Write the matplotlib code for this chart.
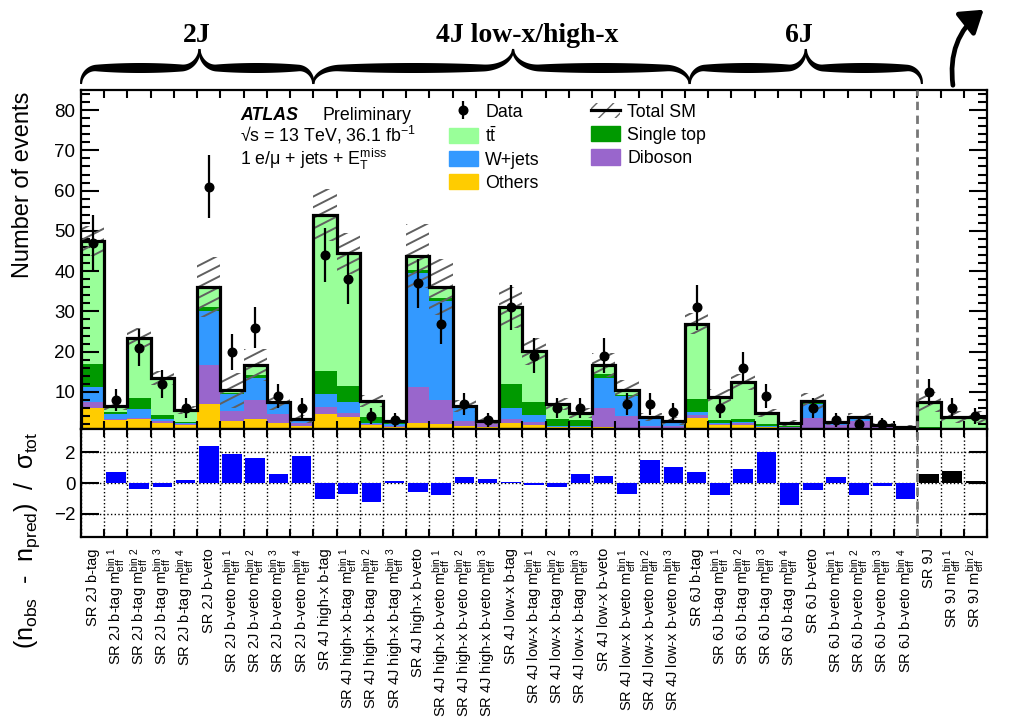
import numpy as np
import matplotlib
matplotlib.use("Agg")
import matplotlib.pyplot as plt
from matplotlib.path import Path
from matplotlib.patches import PathPatch, Patch, FancyArrowPatch, Polygon
from matplotlib.collections import LineCollection
from matplotlib.lines import Line2D
import matplotlib.transforms as mtrans

plt.rcParams['font.family'] = ['Liberation Sans', 'DejaVu Sans']
plt.rcParams['mathtext.fontset'] = 'custom'
plt.rcParams['mathtext.rm'] = 'Liberation Sans'
plt.rcParams['mathtext.it'] = 'Liberation Sans:italic'
plt.rcParams['mathtext.bf'] = 'Liberation Sans:bold'

# ---------------- data ----------------
region_labels = [
    "SR 2J b-tag",
    r"SR 2J b-tag m$_{\mathrm{eff}}^{\mathrm{bin\ 1}}$",
    r"SR 2J b-tag m$_{\mathrm{eff}}^{\mathrm{bin\ 2}}$",
    r"SR 2J b-tag m$_{\mathrm{eff}}^{\mathrm{bin\ 3}}$",
    r"SR 2J b-tag m$_{\mathrm{eff}}^{\mathrm{bin\ 4}}$",
    "SR 2J b-veto",
    r"SR 2J b-veto m$_{\mathrm{eff}}^{\mathrm{bin\ 1}}$",
    r"SR 2J b-veto m$_{\mathrm{eff}}^{\mathrm{bin\ 2}}$",
    r"SR 2J b-veto m$_{\mathrm{eff}}^{\mathrm{bin\ 3}}$",
    r"SR 2J b-veto m$_{\mathrm{eff}}^{\mathrm{bin\ 4}}$",
    "SR 4J high-x b-tag",
    r"SR 4J high-x b-tag m$_{\mathrm{eff}}^{\mathrm{bin\ 1}}$",
    r"SR 4J high-x b-tag m$_{\mathrm{eff}}^{\mathrm{bin\ 2}}$",
    r"SR 4J high-x b-tag m$_{\mathrm{eff}}^{\mathrm{bin\ 3}}$",
    "SR 4J high-x b-veto",
    r"SR 4J high-x b-veto m$_{\mathrm{eff}}^{\mathrm{bin\ 1}}$",
    r"SR 4J high-x b-veto m$_{\mathrm{eff}}^{\mathrm{bin\ 2}}$",
    r"SR 4J high-x b-veto m$_{\mathrm{eff}}^{\mathrm{bin\ 3}}$",
    "SR 4J low-x b-tag",
    r"SR 4J low-x b-tag m$_{\mathrm{eff}}^{\mathrm{bin\ 1}}$",
    r"SR 4J low-x b-tag m$_{\mathrm{eff}}^{\mathrm{bin\ 2}}$",
    r"SR 4J low-x b-tag m$_{\mathrm{eff}}^{\mathrm{bin\ 3}}$",
    "SR 4J low-x b-veto",
    r"SR 4J low-x b-veto m$_{\mathrm{eff}}^{\mathrm{bin\ 1}}$",
    r"SR 4J low-x b-veto m$_{\mathrm{eff}}^{\mathrm{bin\ 2}}$",
    r"SR 4J low-x b-veto m$_{\mathrm{eff}}^{\mathrm{bin\ 3}}$",
    "SR 6J b-tag",
    r"SR 6J b-tag m$_{\mathrm{eff}}^{\mathrm{bin\ 1}}$",
    r"SR 6J b-tag m$_{\mathrm{eff}}^{\mathrm{bin\ 2}}$",
    r"SR 6J b-tag m$_{\mathrm{eff}}^{\mathrm{bin\ 3}}$",
    r"SR 6J b-tag m$_{\mathrm{eff}}^{\mathrm{bin\ 4}}$",
    "SR 6J b-veto",
    r"SR 6J b-veto m$_{\mathrm{eff}}^{\mathrm{bin\ 1}}$",
    r"SR 6J b-veto m$_{\mathrm{eff}}^{\mathrm{bin\ 2}}$",
    r"SR 6J b-veto m$_{\mathrm{eff}}^{\mathrm{bin\ 3}}$",
    r"SR 6J b-veto m$_{\mathrm{eff}}^{\mathrm{bin\ 4}}$",
    "SR 9J",
    r"SR 9J m$_{\mathrm{eff}}^{\mathrm{bin\ 1}}$",
    r"SR 9J m$_{\mathrm{eff}}^{\mathrm{bin\ 2}}$",
]

others = [5.9, 3.0, 3.2, 2.2, 1.8, 7.1, 2.7, 3.4, 2.2, 1.6,
          4.6, 3.8, 1.8, 1.3, 2.4, 2.1, 1.5, 1.3,
          2.2, 1.7, 1.2, 1.2, 1.2, 1.0, 1.0, 1.0,
          3.6, 1.8, 1.8, 1.2, 1.1, 1.0, 0.8, 0.8, 0.5, 0.3,
          0.3, 0.3, 0.3]
diboson = [1.6, 0.4, 0.4, 0.7, 0.2, 9.7, 2.6, 4.5, 2.4, 0.6,
           1.7, 1.0, 0.2, 0.3, 8.8, 6.0, 1.3, 1.2,
           1.1, 0.8, 0.2, 0.2, 4.7, 3.0, 0.6, 0.5,
           0.7, 0.3, 0.4, 0.2, 0.1, 2.6, 1.0, 2.0, 0.8, 0.4,
           0.2, 0.2, 0.2]
wjets = [3.7, 1.2, 2.1, 0.4, 0.2, 13.4, 4.2, 5.6, 2.5, 0.5,
         3.3, 2.7, 0.3, 0.4, 28.3, 24.6, 3.1, 0.2,
         2.6, 1.8, 0.2, 0.2, 7.5, 5.0, 1.8, 0.9,
         0.8, 0.3, 0.4, 0.2, 0.1, 3.3, 0.5, 0.6, 0.3, 0.2,
         0.3, 0.2, 0.2]
singletop = [5.8, 0.4, 2.7, 0.9, 0.3, 0.8, 0.2, 0.6, 0.1, 0.1,
             5.7, 4.1, 1.5, 0.3, 0.8, 0.6, 0.1, 0.0,
             6.2, 3.3, 1.6, 1.4, 1.0, 0.3, 0.1, 0.1,
             3.1, 0.6, 0.8, 0.4, 0.2, 0.3, 0.1, 0.1, 0.1, 0.1,
             0.4, 0.3, 0.3]
ttbar = [30.5, 1.4, 15.1, 9.2, 3.1, 5.0, 0.7, 2.5, 0.2, 0.4,
         38.6, 32.8, 4.0, 0.4, 3.5, 2.7, 0.6, 0.2,
         18.9, 12.5, 3.7, 1.7, 2.2, 1.2, 0.3, 0.2,
         18.8, 5.8, 9.0, 2.7, 0.8, 0.6, 0.1, 0.3, 0.2, 0.2,
         6.4, 2.7, 2.7]
sm_unc = [3.8, 1.0, 2.5, 1.7, 1.0, 7.5, 4.3, 4.0, 2.0, 1.0,
          6.5, 5.0, 1.5, 0.7, 8.0, 7.0, 1.5, 0.8,
          5.0, 3.3, 1.5, 1.2, 3.0, 2.5, 1.0, 1.0,
          2.5, 2.0, 2.0, 1.0, 0.7, 2.0, 0.7, 1.0, 0.5, 0.5,
          2.5, 1.5, 1.5]
data_obs = [47, 8, 21, 12, 6, 61, 20, 26, 9, 6,
            44, 38, 4, 3, 37, 27, 7, 3,
            31, 19, 6, 6, 19, 7, 7, 5,
            31, 6, 16, 9, 0, 6, 3, 2, 2, 0,
            10, 6, 4]
significance = [-0.02, 0.69, -0.39, -0.26, 0.22, 2.37, 1.85, 1.59, 0.56, 1.78,
                -1.03, -0.71, -1.25, 0.10, -0.58, -0.80, 0.37, 0.28,
                0.04, -0.13, -0.28, 0.58, 0.43, -0.71, 1.46, 1.05,
                0.69, -0.80, 0.88, 2.04, -1.42, -0.45, 0.41, -0.77, -0.20, -1.03,
                0.60, 0.80, 0.15]

group_names = ["2J", "4J low-x/high-x", "6J"]
group_ranges = [(0, 10), (10, 26.2), (26.2, 36.2)]
group_tips = [5.1, 18.6, 31.2]
group_text_x = [5.0, 19.2, 30.9]
sep_9j = 36

c_tt = '#99ff99'
c_st = '#009900'
c_w = '#3399ff'
c_dib = '#9966cc'
c_oth = '#ffcc00'

# ---------------- figure ----------------
W, H = 1017, 718
fig = plt.figure(figsize=(W / 100, H / 100), dpi=100)
ax = fig.add_axes([81 / W, 1 - 429 / H, 906 / W, (429 - 90) / H])
ax2 = fig.add_axes([81 / W, 1 - 537 / H, 906 / W, (537 - 429) / H])

n = len(region_labels)
edges = np.arange(n + 1)
centers = edges[:-1] + 0.5

bottom = np.zeros(n)
for vals, col in [(others, c_oth), (diboson, c_dib), (wjets, c_w),
                  (singletop, c_st), (ttbar, c_tt)]:
    top = bottom + np.asarray(vals)
    ax.stairs(top, edges, baseline=bottom, fill=True, color=col, lw=0, zorder=1)
    bottom = top
total = bottom
unc = np.asarray(sm_unc)

ax.set_xlim(0, n)
ax.set_ylim(0.8, 85)
ax2.set_xlim(0, n)
ax2.set_ylim(-3.5, 3.5)

# hatched uncertainty band (slanted lines clipped to the band)
verts, codes = [], []
for i in range(n):
    lo, hi = total[i] - unc[i], total[i] + unc[i]
    verts += [(edges[i], lo), (edges[i + 1], lo), (edges[i + 1], hi), (edges[i], hi), (edges[i], lo)]
    codes += [Path.MOVETO, Path.LINETO, Path.LINETO, Path.LINETO, Path.CLOSEPOLY]
band = PathPatch(Path(verts, codes), transform=ax.transData, fc='none', ec='none')
ax.add_patch(band)
axW, axH = 906.0, 339.0
ang = np.deg2rad(27)
slope = np.tan(ang)
spacing = 9.5 / np.cos(ang)
cs = np.arange(-axW * slope, axH, spacing)
segs = [[(0, c / axH), (1, (c + slope * axW) / axH)] for c in cs]
lc = LineCollection(segs, colors='#606060', linewidths=1.4, transform=ax.transAxes, zorder=2)
ax.add_collection(lc, autolim=False)
lc.set_clip_path(band)

ax.stairs(total, edges, color='k', lw=2.3, zorder=3)

dobs = np.asarray(data_obs, dtype=float)
m = dobs > 0
eb = ax.errorbar(centers[m], dobs[m], yerr=np.sqrt(dobs[m]), fmt='o', color='k',
                 ms=6.2, elinewidth=1.6, capsize=0, zorder=4)

ax.axvline(sep_9j, color='#777777', ls=(0, (3, 2)), lw=2, zorder=5)
ax2.axvline(sep_9j, color='#777777', ls=(0, (3, 2)), lw=2, zorder=5)

# ticks upper
ax.set_yticks(np.arange(10, 81, 10))
ax.set_yticks(np.arange(2, 85, 2), minor=True)
ax.set_xticks(edges)
ax.tick_params(axis='y', which='major', direction='in', length=13, width=1.5,
               left=True, right=True, labelsize=13.5, pad=4)
ax.tick_params(axis='y', which='minor', direction='in', length=6.5, width=1.5,
               left=True, right=True)
ax.tick_params(axis='x', which='major', direction='in', length=5.5, width=1.5,
               top=True, bottom=True, labelbottom=False)
ax.tick_params(axis='x', which='minor', bottom=False, top=False)
for s in ax.spines.values():
    s.set_linewidth(1.6)

# legend
h_tot = (Patch(facecolor='none', edgecolor='#666666', hatch='//', lw=0),
         Line2D([], [], color='k', lw=2.3))
handles = [eb, Patch(color=c_tt), Patch(color=c_w), Patch(color=c_oth),
           h_tot, Patch(color=c_st), Patch(color=c_dib)]
leg_labels = ['Data', r't$\bar{\mathrm{t}}$', 'W+jets', 'Others',
              'Total SM', 'Single top', 'Diboson']
ax.legend(handles, leg_labels, ncol=2, loc='upper left',
          bbox_to_anchor=((449 - 81) / 906, (429 - 103) / 339),
          frameon=False, fontsize=12.8, handlelength=1.63, handleheight=0.95,
          handletextpad=0.4, labelspacing=0.3, columnspacing=2.9,
          borderpad=0, borderaxespad=0)

# ATLAS labels
ax.text((240 - 81) / 906, (429 - 120) / 339, 'ATLAS', transform=ax.transAxes,
        fontsize=12.8, fontweight='bold', fontstyle='italic', va='baseline')
ax.text((323 - 81) / 906, (429 - 120) / 339, 'Preliminary', transform=ax.transAxes,
        fontsize=12.8, va='baseline')
ax.text((240 - 81) / 906, (429 - 142) / 339, r'√s = 13 TeV, 36.1 fb$^{\mathrm{-1}}$',
        transform=ax.transAxes, fontsize=12.8, va='baseline')
ax.text((240 - 81) / 906, (429 - 165) / 339,
        r'1 e/μ + jets + E$_{\mathrm{T}}^{\mathrm{miss}}$',
        transform=ax.transAxes, fontsize=12.8, va='baseline')

# lower panel
bar_colors = ['#0000ff'] * sep_9j + ['black'] * (n - sep_9j)
ax2.bar(centers, significance, width=0.84, color=bar_colors, zorder=3)
ax2.set_yticks([-2, 0, 2])
ax2.set_xticks(edges)
ax2.set_xticks(centers, minor=True)
ax2.set_xticklabels(region_labels, minor=True, rotation=90, fontsize=10.5)
ax2.tick_params(axis='x', which='major', direction='in', length=5.5, width=1.5,
                top=True, bottom=True, labelbottom=False)
ax2.tick_params(axis='x', which='minor', length=0, pad=8)
ax2.tick_params(axis='y', which='major', direction='in', length=13, width=1.5,
                left=True, right=True, labelsize=13.5, pad=4)
ax2.grid(True, axis='x', which='major', ls=':', color='k', lw=1)
for yv in [-2, 0, 2]:
    ax2.axhline(yv, ls=':', color='k', lw=1, zorder=1)
for s in ax2.spines.values():
    s.set_linewidth(1.6)

fig.text(23 / W, 1 - 92 / H, 'Number of events', rotation=90, ha='center', va='top',
         fontsize=17)
fig.text(27 / W, 1 - 432 / H,
         r'(n$_{\mathrm{obs}}$  -  n$_{\mathrm{pred}}$)  /  σ$_{\mathrm{tot}}$',
         rotation=90, ha='center', va='top', fontsize=18)

# braces
def brace(x_end, x_tip, y_end, y_mid, y_tip, tmax):
    u = np.linspace(0, 1, 300)
    a, b = 0.13, 0.15
    xe = ax.transData.transform((x_end, 0))[0]
    xt = ax.transData.transform((x_tip, 0))[0]
    xp = xe + u * (xt - xe)
    r1 = (y_end - y_mid) * np.sqrt(1 - (1 - np.clip(u / a, 0, 1)) ** 2)
    r2 = (y_mid - y_tip) * (1 - np.sqrt(1 - np.clip((u - (1 - b)) / b, 0, 1) ** 2))
    yp = y_end - r1 - r2
    t = 2.0 + (tmax - 2.0) * np.sin(np.pi * u) ** 0.6
    dx = np.gradient(xp)
    dy = np.gradient(yp)
    nrm = np.hypot(dx, dy)
    nx, ny = -dy / nrm, dx / nrm
    up = np.column_stack([xp + nx * t / 2, yp + ny * t / 2])
    lo = np.column_stack([xp - nx * t / 2, yp - ny * t / 2])
    pts = np.vstack([up, lo[::-1]])
    pts_fig = np.column_stack([pts[:, 0] / W, 1 - pts[:, 1] / H])
    fig.add_artist(Polygon(pts_fig, closed=True, transform=fig.transFigure,
                           color='k', lw=0))

for (x0, x1), xt in zip(group_ranges, group_tips):
    brace(x0, xt, 84, 68, 49, 10)
    brace(x1, xt, 84, 68, 49, 10)

blend = mtrans.blended_transform_factory(ax.transData, fig.transFigure)
for name, xtx in zip(group_names, group_text_x):
    fig.text(xtx, 1 - 42 / H, name, transform=blend, ha='center', va='baseline',
             fontsize=20, fontweight='bold', family='Liberation Serif')

arr = FancyArrowPatch((37.55, 1 - 88 / H), (38.95, 1 - 8 / H), transform=blend,
                      connectionstyle='arc3,rad=-0.3',
                      arrowstyle='-|>,head_length=0.6,head_width=0.4',
                      mutation_scale=22, lw=3.4, color='k')
fig.add_artist(arr)

fig.savefig('out.png', dpi=100)
